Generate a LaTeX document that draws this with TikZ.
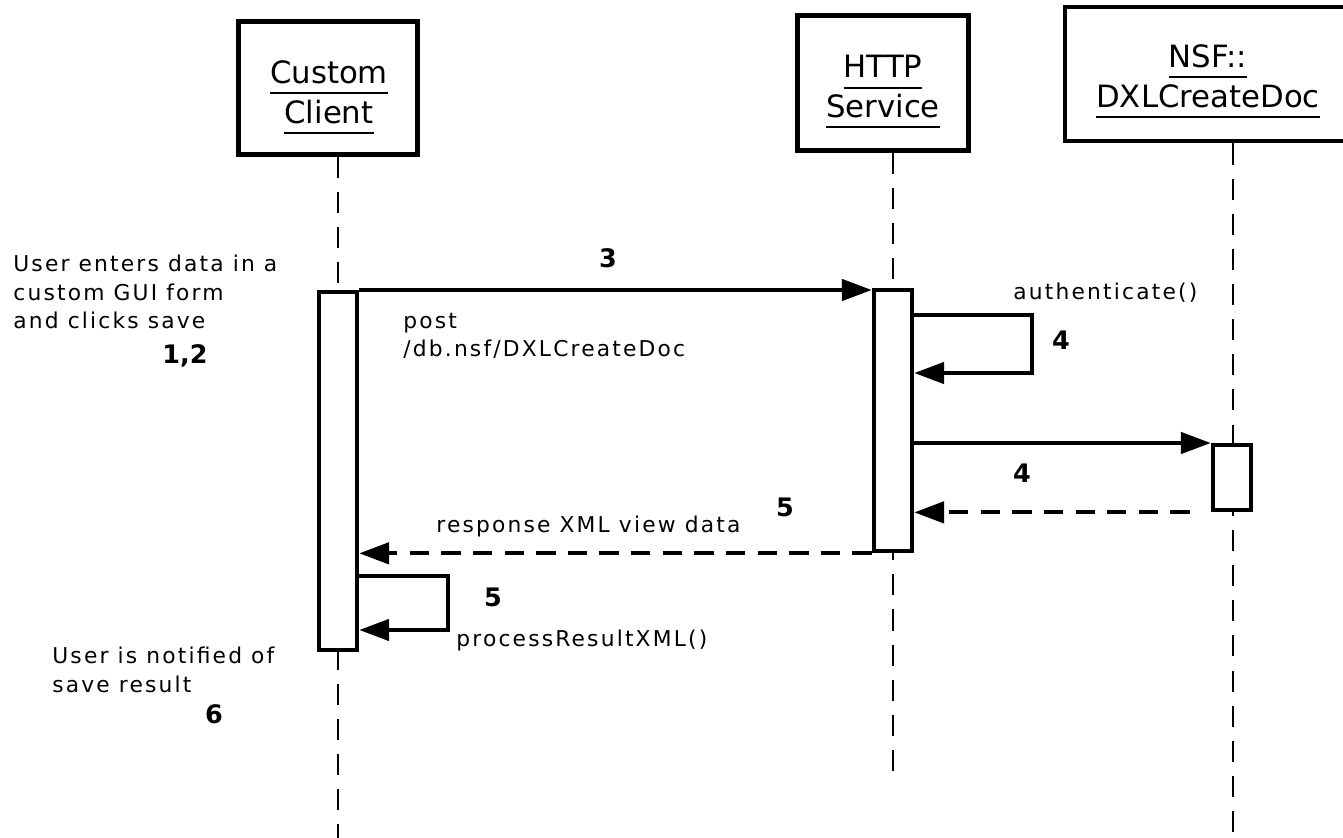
\documentclass[tikz,border=0pt]{standalone}
\usepackage{fontspec}
\setmainfont{DejaVu Sans}
\newfontfamily\lblfont[LetterSpace=10]{DejaVu Sans}
\usetikzlibrary{arrows.meta}
\newsavebox\hdbox
\newcommand\hdline[1]{\sbox\hdbox{#1}\rlap{\rule[-6pt]{\wd\hdbox}{1.1pt}}\usebox\hdbox}
\tikzset{
	objbox/.style={draw, line width=2.5pt},
	objname/.style={font=\fontsize{17.5}{22.7}\selectfont, align=center, inner sep=0pt},
	actbar/.style={draw, fill=white, line width=2.5pt, minimum width=0.76cm, anchor=north, inner sep=0pt},
	lifeline/.style={line width=1.1pt, dash pattern=on 12pt off 8pt},
	call/.style={line width=2.4pt, -{Triangle[length=17pt, width=12pt]}},
	reply/.style={call, dash pattern=on 11pt off 7pt},
	lbl/.style={font=\lblfont\fontsize{12.4}{16}\selectfont, align=left, inner sep=0pt},
	stepno/.style={font=\bfseries\fontsize{14.5}{17}\selectfont, inner sep=0pt}
}
\begin{document}
\begin{tikzpicture}[x=0.02cm, y=-0.02cm]
	\useasboundingbox (0,0) rectangle (1343,838);
	\clip (0,0) rectangle (1343,838);
	% objects
	\node[objbox, minimum width=3.58cm, minimum height=2.66cm] (client) at (328,88) {};
	\node[objbox, minimum width=3.42cm, minimum height=2.7cm] (http) at (883,83) {};
	\node[objbox, minimum width=5.72cm, minimum height=2.69cm] (nsf) at (1208,74) {};
	\node[objname] (clientname) at (329,97) {\hdline{Custom}\\\hdline{Client}};
	\node[objname] (httpname) at (883,92) {\hdline{HTTP}\\\hdline{Service}};
	\node[objname] (nsfname) at (1208,81) {\hdline{NSF::}\\\hdline{DXLCreateDoc}};
	% lifelines
	\coordinate (clientend) at (338,838);
	\coordinate (httpend) at (893,780);
	\coordinate (nsfend) at (1233,838);
	\draw[lifeline] (client.south -| clientend) -- (clientend);
	\draw[lifeline] (http.south -| httpend) -- (httpend);
	\draw[lifeline] (nsf.south -| nsfend) -- (nsfend);
	% activations
	\node[actbar, minimum height=7.16cm] (clientbar) at (338,290) {};
	\node[actbar, minimum height=5.22cm] (httpbar) at (893,288) {};
	\node[actbar, minimum height=1.3cm] (nsfbar) at (1232,443) {};
	% messages
	\draw[call] (clientbar.north east) -- (clientbar.north east -| httpbar.west);
	\coordinate (authtop) at (1032,315);
	\coordinate (authbot) at (1032,373);
	\draw[call] (httpbar.east |- authtop) -- (authtop) -- (authbot) -- (httpbar.east |- authbot);
	\draw[call] (httpbar.east |- nsfbar.north) -- (nsfbar.north west);
	\draw[reply, shorten <=12pt] (nsfbar.south west) -- (nsfbar.south west -| httpbar.east);
	\draw[reply] (httpbar.south west) -- (httpbar.south west -| clientbar.east);
	\coordinate (proctop) at (448,576);
	\coordinate (procbot) at (448,630);
	\draw[call] (clientbar.east |- proctop) -- (proctop) -- (procbot) -- (clientbar.east |- procbot);
	% texts
	\node[lbl, anchor=north west] (enter) at (13,255) {User enters data in a\\custom GUI form\\and clicks save};
	\node[stepno] (s12) at (185,356) {1,2};
	\node[stepno] (s3) at (608,258) {3};
	\node[lbl, anchor=north west] (post) at (403,313) {post\\/db.nsf/DXLCreateDoc};
	\node[lbl, anchor=base west] (auth) at (1013,299) {authenticate()};
	\node[stepno] (s4a) at (1061,340) {4};
	\node[stepno] (s4b) at (1022,473) {4};
	\node[stepno] (s5a) at (785,507) {5};
	\node[lbl, anchor=base west] (resp) at (436,532) {response XML view data};
	\node[stepno] (s5b) at (493,597) {5};
	\node[lbl, anchor=base west] (proc) at (456,646) {processResultXML()};
	\node[lbl, anchor=north west] (notify) at (52,647) {User is notified of\\save result};
	\node[stepno] (s6) at (214,714) {6};
\end{tikzpicture}
\end{document}
